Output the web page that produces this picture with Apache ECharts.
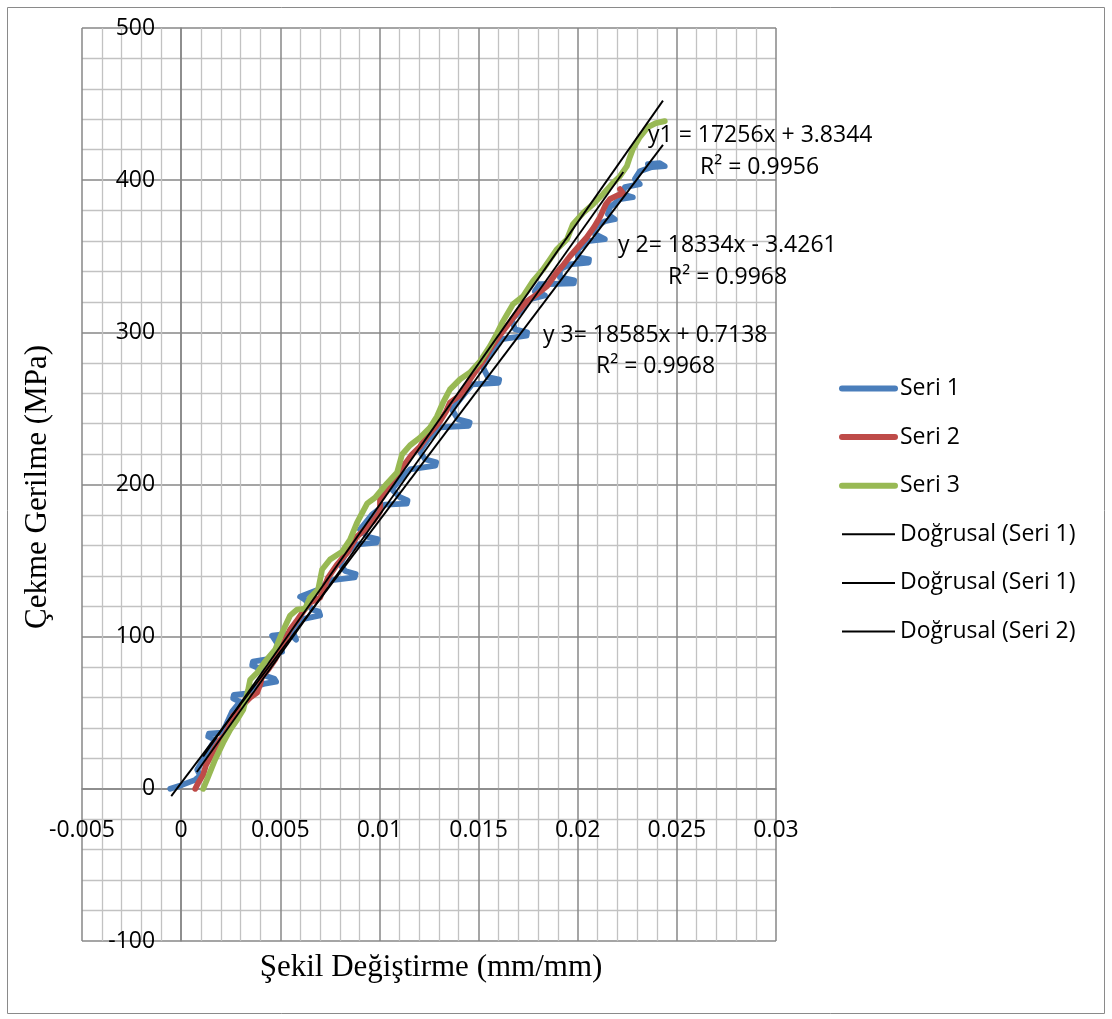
<!DOCTYPE html>
<html><head><meta charset="utf-8">
<script src="https://cdn.jsdelivr.net/npm/echarts@6/dist/echarts.min.js"></script>
<style>html,body{margin:0;padding:0;background:#fff}#c{width:1112px;height:1019px}</style>
</head><body><div id="c"></div><script>
// ---- data (strain mm/mm, stress MPa) ----
const seri1 = [[-0.00055,0],[0.00005,2.6],[0.00071,5.9],[0.00096,8.6],[0.00081,12.5],[0.00111,19.1],[0.00146,27.0],[0.00171,32.2],[0.00136,34.4],[0.00140,36.2],[0.00207,37.0],[0.00227,42.1],[0.00257,50.7],[0.00297,57.2],[0.00262,59.4],[0.00266,61.8],[0.00338,62.8],[0.00358,66.4],[0.00423,69.2],[0.00479,70.4],[0.00470,72.4],[0.00428,74.2],[0.00408,78.3],[0.00358,81.2],[0.00362,83.6],[0.00438,85.2],[0.00459,88.2],[0.00509,90.1],[0.00489,94.7],[0.00459,100.7],[0.00549,102.0],[0.00580,98.0],[0.00559,104.6],[0.00600,111.2],[0.00701,114.0],[0.00695,116.5],[0.00660,117.8],[0.00625,124.3],[0.00600,126.3],[0.00691,130.9],[0.00751,137.0],[0.00875,139.0],[0.00880,141.2],[0.00827,143.2],[0.00801,147.4],[0.00827,153.9],[0.00877,160.5],[0.00985,161.8],[0.00990,164.2],[0.00942,165.6],[0.00902,170.4],[0.00963,180.3],[0.01028,186.8],[0.01138,187.4],[0.01142,189.6],[0.01104,191.6],[0.01063,196.7],[0.01104,203.3],[0.01154,209.9],[0.01282,212.4],[0.01286,214.6],[0.01230,216.6],[0.01204,221.7],[0.01245,229.6],[0.01305,237.5],[0.01450,238.6],[0.01455,240.8],[0.01396,242.8],[0.01366,249.3],[0.01406,255.9],[0.01467,265.8],[0.01600,266.8],[0.01604,269.0],[0.01547,270.6],[0.01522,277.0],[0.01557,285.5],[0.01608,295.4],[0.01742,297.8],[0.01745,300.0],[0.01683,302.0],[0.01668,308.6],[0.01709,313.8],[0.01759,321.7],[0.01835,324.3],[0.01784,327.0],[0.01809,331.6],[0.01980,332.2],[0.01982,334.2],[0.01910,336.2],[0.01910,341.4],[0.01961,344.7],[0.02055,345.9],[0.02057,347.9],[0.02001,349.3],[0.02001,354.6],[0.02051,359.9],[0.02137,361.2],[0.02087,364.5],[0.02087,369.1],[0.02137,373.0],[0.02187,374.3],[0.02152,377.6],[0.02162,382.2],[0.02213,387.5],[0.02278,388.8],[0.02223,390.8],[0.02238,395.4],[0.02313,397.4],[0.02288,400.7],[0.02313,405.9],[0.02374,408.6],[0.02439,409.2],[0.02414,411.2],[0.02354,410.5]];
const seri2 = [[0.00071,0],[0.00086,3.9],[0.00111,9.2],[0.00126,15.8],[0.00146,20.4],[0.00171,27.0],[0.00197,32.2],[0.00222,35.5],[0.00247,42.1],[0.00262,48.0],[0.00287,50.7],[0.00323,56.6],[0.00348,59.9],[0.00383,63.2],[0.00398,68.4],[0.00408,73.7],[0.00439,78.3],[0.00474,84.9],[0.00499,91.4],[0.00524,98.0],[0.00549,104.6],[0.00580,109.9],[0.00615,116.4],[0.00650,122.4],[0.00701,125.7],[0.00716,130.9],[0.00741,138.8],[0.00786,147.4],[0.00842,155.9],[0.00862,160.5],[0.00887,165.8],[0.00927,170.4],[0.00968,175.7],[0.01003,182.2],[0.01003,190.1],[0.01033,196.7],[0.01069,203.3],[0.01104,208.6],[0.01134,214.5],[0.01164,219.7],[0.01205,225.0],[0.01240,231.6],[0.01280,237.5],[0.01305,241.4],[0.01336,248.0],[0.01356,253.9],[0.01406,258.6],[0.01436,263.8],[0.01457,269.1],[0.01492,275.7],[0.01522,280.9],[0.01557,288.8],[0.01593,295.4],[0.01623,300.7],[0.01658,306.6],[0.01699,313.8],[0.01744,320.4],[0.01794,325.0],[0.01845,330.3],[0.01870,334.9],[0.01895,339.5],[0.01930,344.7],[0.01961,350.0],[0.02001,355.9],[0.02046,362.5],[0.02082,369.1],[0.02112,375.7],[0.02142,384.2],[0.02162,387.5],[0.02203,390.1],[0.02228,391.4],[0.02213,394.1]];
const seri3 = [[0.00111,0],[0.00136,7.9],[0.00171,19.1],[0.00212,30.3],[0.00247,38.8],[0.00282,45.4],[0.00313,52.0],[0.00338,65.1],[0.00348,71.7],[0.00383,76.3],[0.00423,83.6],[0.00474,91.4],[0.00509,102.6],[0.00549,113.8],[0.00585,117.8],[0.00625,118.4],[0.00650,125.7],[0.00691,130.9],[0.00711,144.1],[0.00751,150.7],[0.00812,155.9],[0.00852,163.8],[0.00887,175.0],[0.00938,187.5],[0.00978,191.4],[0.01038,200.7],[0.01089,207.9],[0.01114,219.7],[0.01154,225.7],[0.01205,230.9],[0.01255,237.5],[0.01290,244.7],[0.01321,253.9],[0.01356,262.5],[0.01406,269.1],[0.01457,273.7],[0.01507,280.9],[0.01557,290.8],[0.01593,299.3],[0.01623,307.2],[0.01673,318.4],[0.01724,323.7],[0.01774,333.6],[0.01825,341.4],[0.01860,348.0],[0.01895,354.6],[0.01946,361.2],[0.01976,371.1],[0.02026,378.3],[0.02077,384.2],[0.02127,390.8],[0.02172,397.4],[0.02213,402.6],[0.02248,409.2],[0.02263,415.1],[0.02278,420.4],[0.02313,428.3],[0.02354,434.9],[0.02394,437.5],[0.02439,438.8]];
const trend1 = [[-0.0005,-4.8],[0.0243,423.2]];
const trend2 = [[0.00079,11.1],[0.0223,405.4]];
const trend3 = [[0.00111,21.3],[0.0243,452.3]];
const seriesNames = ['Seri 1','Seri 2','Seri 3'];
const trendNames = ['Doğrusal (Seri 1)','Doğrusal (Seri 1) ','Doğrusal (Seri 2)'];
const equations = ['y1 = 17256x + 3.8344','y 2= 18334x - 3.4261','y 3= 18585x + 0.7138'];
const rSquared = ['R² = 0.9956','R² = 0.9968','R² = 0.9968'];
const xRange = [-0.005, 0.03, 0.005];
const yRange = [-100, 500, 100];
const xTitle = 'Şekil Değiştirme (mm/mm)';
const yTitle = 'Çekme Gerilme (MPa)';

// ---- styling / layout ----
const SANS = '"Open Sans", sans-serif';
const SERIF = '"Liberation Serif", serif';
const colors = ['#4A7EBB','#BE4B48','#98B954'];
const major = {color:'#878787', width:1.5};
const minor = {color:'#c2c2c2', width:1.3};
const G = {left:82, top:28, width:694, height:913};

// place the axes where the other axis crosses zero (Excel style)
const yZeroPx = G.top + G.height * (yRange[1] - 0) / (yRange[1] - yRange[0]);
const xZeroPx = G.left + G.width * (0 - xRange[0]) / (xRange[1] - xRange[0]);
const xAxisOffset = -((G.top + G.height) - yZeroPx);
const yAxisOffset = -(xZeroPx - G.left);

const chart = echarts.init(document.getElementById('c'), null, {renderer:'canvas'});
const dataSeries = [seri1, seri2, seri3].map((d,i)=>({
  name: seriesNames[i], type:'line', data:d, showSymbol:false, symbol:'none', smooth:false,
  lineStyle:{color:colors[i], width:5.8, cap:'round', join:'round'}, itemStyle:{color:colors[i]},
  z: 3+i, animation:false
}));
const trendSeries = [trend1, trend2, trend3].map((d,i)=>({
  name: trendNames[i], type:'line', data:d, showSymbol:false, symbol:'none',
  lineStyle:{color:'#000', width:1.9}, itemStyle:{color:'#000'}, z:10, animation:false
}));
const eqPos = [[648,135,700,167],[618,245,668,277],[543,335,596,366]];
const eqGraphics = [];
equations.forEach((t,i)=>{
  eqGraphics.push({type:'text', x:eqPos[i][0], y:eqPos[i][1], z:20, style:{text:t, font:'23px '+SANS, fill:'#000', textVerticalAlign:'middle'}});
  eqGraphics.push({type:'text', x:eqPos[i][2], y:eqPos[i][3], z:20, style:{text:rSquared[i], font:'23px '+SANS, fill:'#000', textVerticalAlign:'middle'}});
});
const legendData = seriesNames.map((n,i)=>({name:n, lineStyle:{width:6, color:colors[i], cap:'round'}}))
  .concat(trendNames.map(n=>({name:n, lineStyle:{width:2, color:'#000'}})));
const fmt = v => String(parseFloat(Number(v).toFixed(4)));
chart.setOption({
  animation:false,
  backgroundColor:'#fff',
  grid:{left:G.left, top:G.top, width:G.width, height:G.height, containLabel:false},
  xAxis:{type:'value', min:xRange[0], max:xRange[1], interval:xRange[2], position:'bottom', offset:xAxisOffset,
    axisLine:{onZero:false, lineStyle:major}, axisTick:{show:false},
    axisLabel:{margin:30, formatter:fmt, color:'#000', fontFamily:SANS, fontSize:23},
    splitLine:{show:true, lineStyle:major},
    minorTick:{show:false, splitNumber:5},
    minorSplitLine:{show:true, lineStyle:minor}},
  yAxis:{type:'value', min:yRange[0], max:yRange[1], interval:yRange[2], position:'left', offset:yAxisOffset,
    axisLine:{onZero:false, lineStyle:major}, axisTick:{show:false},
    axisLabel:{margin:26, color:'#000', fontFamily:SANS, fontSize:23},
    splitLine:{show:true, lineStyle:major},
    minorTick:{show:false, splitNumber:5},
    minorSplitLine:{show:true, lineStyle:minor}},
  legend:{orient:'vertical', left:834, top:372, itemWidth:53, itemHeight:14, itemGap:25.6,
    itemStyle:{opacity:0, color:'rgba(0,0,0,0)', borderWidth:0},
    data:legendData, textStyle:{fontFamily:SANS, fontSize:23, color:'#000'}, selectedMode:false},
  graphic:[
    {type:'rect', shape:{x:7.5, y:7.5, width:1097, height:1006}, style:{fill:'none', stroke:'#8a8a8a', lineWidth:1}, z:-1, silent:true},
    {type:'text', x:431, y:968, style:{text:xTitle, font:'31px '+SERIF, fill:'#000', textAlign:'center', textVerticalAlign:'middle'}},
    {type:'text', x:38, y:487, rotation:Math.PI/2, style:{text:yTitle, font:'31px '+SERIF, fill:'#000', textAlign:'center', textVerticalAlign:'middle'}}
  ].concat(eqGraphics),
  series: dataSeries.concat(trendSeries)
});
</script></body></html>
